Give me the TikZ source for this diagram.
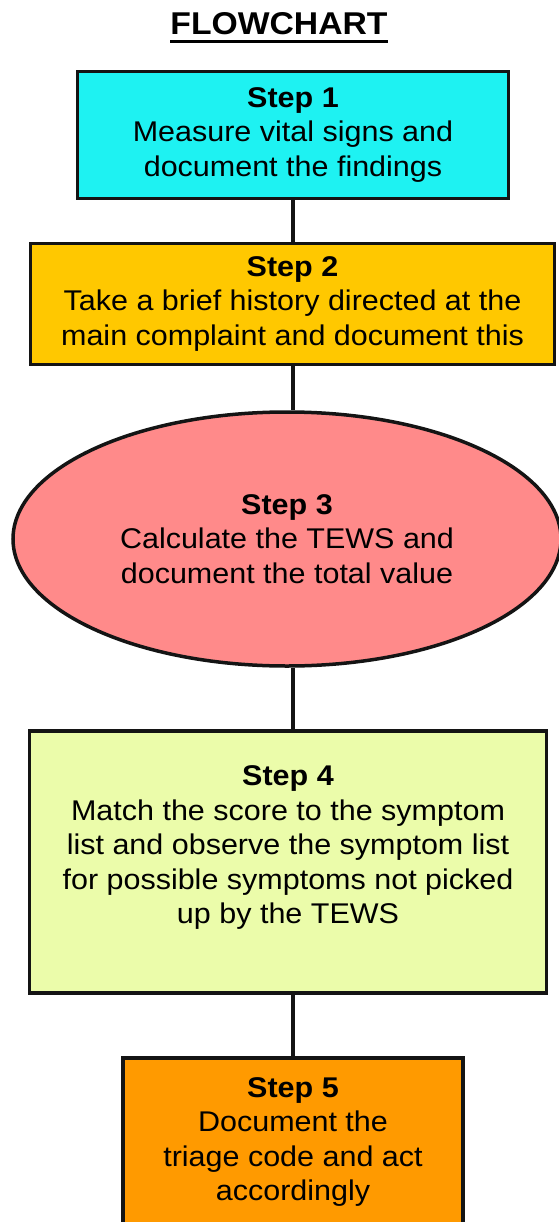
\documentclass[tikz,border=0pt]{standalone}
\usepackage{fontspec}
\setmainfont{Liberation Sans}[FakeStretch=1.07]
\usepackage{tikz}
\usetikzlibrary{shapes.geometric}
\definecolor{FlowCyan}{HTML}{1EF2F2}
\definecolor{FlowGold}{HTML}{FFC800}
\definecolor{FlowRose}{HTML}{FF8A8A}
\definecolor{FlowLime}{HTML}{EBFCAA}
\definecolor{FlowOrange}{HTML}{FF9A00}
\definecolor{FlowInk}{HTML}{141414}

\begin{document}
\begin{tikzpicture}[x=1pt,y=-1pt,
  stepbox/.style={draw=FlowInk,line width=3.5pt,align=center,inner sep=0pt,
    font=\fontsize{28.5}{34.5}\selectfont},
  link/.style={draw=FlowInk,line width=4pt}]
  \useasboundingbox (0,0) rectangle (558,1222);
  \node[anchor=base,inner sep=0pt,font=\bfseries\fontsize{31.5}{36}\selectfont] (title) at (279,35) {FLOWCHART};
  \draw[line width=3pt] ([yshift=-7pt]title.base west) -- ([yshift=-7pt]title.base east);
  \node[stepbox,fill=FlowCyan,minimum width=431pt,minimum height=127pt] (s1) at (293,135)
    {\textbf{Step 1}\\Measure vital signs and\\document the findings};
  \node[stepbox,fill=FlowGold,minimum width=524pt,minimum height=121pt] (s2) at (292.5,304)
    {\textbf{Step 2}\\Take a brief history directed at the\\main complaint and document this};
  \node[stepbox,ellipse,fill=FlowRose,minimum width=548pt,minimum height=254pt] (s3) at (287,539)
    {\textbf{Step 3}\\Calculate the TEWS and\\document the total value};
  \node[stepbox,fill=FlowLime,minimum width=517pt,minimum height=262pt] (s4) at (288,862)
    {\textbf{Step 4}\\Match the score to the symptom\\list and observe the symptom list\\for possible symptoms not picked\\up by the TEWS\\ \mbox{}};
  \node[stepbox,fill=FlowOrange,minimum width=340pt,minimum height=168pt] (s5) at (293,1142)
    {\textbf{Step 5}\\Document the\\triage code and act\\accordingly};
  \foreach \a/\b in {s1/s2,s2/s3,s3/s4,s4/s5}
    \draw[link] (\a.south -| s1.center) -- (\b.north -| s1.center);
\end{tikzpicture}
\end{document}
